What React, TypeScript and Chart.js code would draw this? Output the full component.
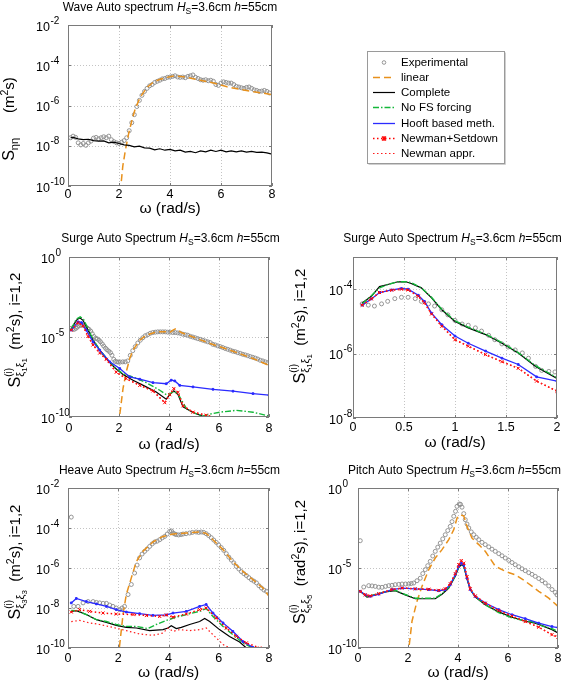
import { useEffect, useRef } from "react";
import { Chart, registerables } from "chart.js";

Chart.register(...registerables);

const FIG_W = 567;
const FIG_H = 684;
const FONT = '"Liberation Sans", Arial, Helvetica, sans-serif';

// ---------------- DATA ----------------
// Wave auto spectrum
const waveExpX = [0.1,0.2,0.3,0.4,0.5,0.6,0.7,0.8,0.9,1.0,1.1,1.2,1.3,1.4,1.5,1.6,1.7,1.8,1.9,2.0,2.1,2.2,2.3,2.4,2.5,2.6,2.7,2.8,2.9,3.0,3.1,3.2,3.3,3.4,3.5,3.6,3.7,3.8,3.9,4.0,4.1,4.2,4.3,4.4,4.5,4.6,4.7,4.8,4.9,5.0,5.1,5.2,5.3,5.4,5.5,5.6,5.7,5.8,5.9,6.0,6.1,6.2,6.3,6.4,6.5,6.6,6.7,6.8,6.9,7.0,7.1,7.2,7.3,7.4,7.5,7.6,7.7,7.8,7.9];
const waveExpY = [2.5e-8,3.0e-8,2.6e-8,1.4e-8,1.1e-8,1.3e-8,1.05e-8,1.4e-8,1.7e-8,2.4e-8,
  2.6e-8,2.2e-8,2.5e-8,2.8e-8,2.5e-8,3.0e-8,2.0e-8,1.6e-8,1.4e-8,1.3e-8,
  1.5e-8,1.8e-8,2.5e-8,5.6e-8,1.4e-7,3.5e-7,8.9e-7,1.8e-6,3.2e-6,5.0e-6,
  7.1e-6,9.5e-6,1.1e-5,1.4e-5,1.6e-5,1.8e-5,2.1e-5,2.2e-5,2.5e-5,2.6e-5,
  2.8e-5,3.0e-5,2.6e-5,2.5e-5,2.6e-5,2.4e-5,2.8e-5,3.0e-5,3.3e-5,2.5e-5,
  2.2e-5,1.9e-5,1.8e-5,1.9e-5,1.7e-5,1.8e-5,1.6e-5,1.1e-5,1.0e-5,1.3e-5,
  1.5e-5,1.4e-5,1.3e-5,1.3e-5,1.1e-5,8.9e-6,8.3e-6,7.6e-6,7.1e-6,7.9e-6,
  8.3e-6,7.1e-6,6.0e-6,5.6e-6,5.0e-6,5.2e-6,5.6e-6,5.0e-6,4.2e-6];
const waveLinX = [2.05,2.15,2.25,2.38,2.51,2.64,2.84,3.1,3.36,3.62,3.88,4.14,4.4,4.67,5.19,5.71,6.24,6.76,7.28,8.0];
const waveLinY = [5e-11,1.0e-9,6.0e-9,4.1e-8,1.9e-7,7.1e-7,2.7e-6,7.9e-6,1.5e-5,2.0e-5,2.5e-5,2.9e-5,2.8e-5,2.5e-5,1.8e-5,1.3e-5,8.5e-6,6.3e-6,4.8e-6,3.5e-6];
const waveCompX = [0.1,0.2,0.4,0.6,0.8,1.0,1.2,1.4,1.6,1.8,2.0,2.2,2.4,2.6,2.8,3.0,3.2,3.4,3.6,3.8,4.0,4.2,4.4,4.6,4.8,5.0,5.2,5.4,5.6,5.8,6.0,6.2,6.4,6.6,6.8,7.0,7.2,7.4,7.6,7.8,8.0];
const waveCompY = [2.5e-8,2.6e-8,2.2e-8,2.0e-8,2.1e-8,1.8e-8,1.7e-8,1.74e-8,1.4e-8,1.5e-8,1.3e-8,1.1e-8,1.05e-8,8.9e-9,9.5e-9,7.9e-9,7.6e-9,6.3e-9,7.1e-9,6.0e-9,6.6e-9,5.6e-9,6.0e-9,4.8e-9,5.2e-9,4.5e-9,5.6e-9,5.0e-9,6.0e-9,5.2e-9,6.0e-9,5.0e-9,5.6e-9,5.0e-9,5.5e-9,4.8e-9,5.2e-9,4.7e-9,4.8e-9,4.4e-9,3.8e-9];

// Surge auto spectrum (shared experimental data)
const surgeExpX = [0.09,0.15,0.21,0.28,0.34,0.41,0.475,0.54,0.61,0.67,0.74,0.8,0.87,0.93,1.0,1.07,1.13,1.2,1.26,1.33,1.39,1.46,1.52,1.59,1.66,1.72,1.79,1.85,1.92,1.98,
  2.05,2.15,2.25,2.35,2.45,2.55,2.65,2.75,2.85,2.95,3.05,3.15,3.25,3.35,3.45,3.55,3.65,3.75,3.85,3.95,4.05,4.15,4.25,4.35,4.45,4.55,4.65,4.75,4.85,4.95,
  5.05,5.15,5.25,5.35,5.45,5.55,5.65,5.75,5.85,5.95,6.05,6.15,6.25,6.35,6.45,6.55,6.65,6.75,6.85,6.95,7.05,7.15,7.25,7.35,7.45,7.55,7.65,7.75,7.85,7.95];
const surgeExpY = [3.5e-5,3.2e-5,3.0e-5,3.5e-5,4.2e-5,5.1e-5,5.6e-5,5.6e-5,5.1e-5,4.2e-5,3.5e-5,3.0e-5,2.3e-5,1.6e-5,1.07e-5,8.3e-6,7.6e-6,6.3e-6,5.0e-6,3.7e-6,2.7e-6,2.0e-6,1.6e-6,1.3e-6,1.05e-6,7.2e-7,4.0e-7,3.0e-7,2.8e-7,2.7e-7,
  2.7e-7,2.8e-7,2.8e-7,3.2e-7,7.1e-7,1.4e-6,2.5e-6,4.2e-6,6.3e-6,8.9e-6,
  1.2e-5,1.4e-5,1.7e-5,1.9e-5,2.0e-5,2.1e-5,2.1e-5,2.1e-5,2.1e-5,2.0e-5,
  2.0e-5,1.9e-5,1.9e-5,1.8e-5,1.7e-5,1.5e-5,1.4e-5,1.3e-5,1.1e-5,1.0e-5,
  8.9e-6,7.9e-6,7.1e-6,6.3e-6,5.6e-6,5.0e-6,4.5e-6,3.5e-6,3.2e-6,2.8e-6,
  2.5e-6,2.2e-6,1.9e-6,1.7e-6,1.5e-6,1.3e-6,1.2e-6,1.05e-6,9.5e-7,8.3e-7,
  7.6e-7,6.8e-7,6.0e-7,5.4e-7,4.8e-7,4.2e-7,3.5e-7,3.2e-7,2.8e-7,2.5e-7];
const surgeLinX = [1.98,2.16,2.29,2.43,2.56,2.83,3.09,3.49,3.89,4.03,4.16,4.29,4.49,5.23,5.76,6.56,7.36,8.0];
const surgeLinY = [3.2e-11,5.9e-9,6.6e-8,4.5e-7,1.5e-6,6.3e-6,1.3e-5,2.1e-5,2.1e-5,1.9e-5,2.7e-5,3.4e-5,1.9e-5,6.9e-6,3.4e-6,1.3e-6,4.5e-7,1.7e-7];
const surgeCompX = [0.09,0.29,0.43,0.56,0.76,0.96,1.23,1.49,1.83,2.16,2.56,3.09,3.49,3.89,4.03,4.19,4.36,4.56,4.96,5.43,5.8];
const surgeCompY = [3.1e-5,1.1e-4,1.6e-4,1.1e-4,2.7e-5,6.3e-6,1.5e-6,4.5e-7,1.2e-7,4.5e-8,2.0e-8,7.6e-9,3.7e-9,1.3e-9,2.5e-9,4.3e-9,2.5e-9,4.3e-10,1.9e-10,1.0e-10,5.0e-11];
const surgeNoFsX = [0.09,0.29,0.45,0.58,0.76,0.96,1.23,1.49,1.83,2.16,2.56,3.09,3.63,3.89,4.03,4.19,4.36,4.7,5.0,5.36,5.7,6.03,6.69,7.36,8.0];
const surgeNoFsY = [3.2e-5,1.3e-4,1.8e-4,1.3e-4,3.2e-5,7.1e-6,1.6e-6,5.0e-7,1.3e-7,5.0e-8,3.2e-8,1.4e-8,4.7e-9,2.5e-9,2.8e-9,4.0e-9,2.8e-9,3.3e-10,1.8e-10,1.15e-10,1.6e-10,2.0e-10,2.6e-10,2.0e-10,1.15e-10];
const surgeHooftX = [0.09,0.36,0.5,0.69,0.96,1.23,1.63,2.03,2.43,2.83,3.36,3.89,4.09,4.23,4.43,4.96,5.76,6.56,7.36,8.0];
const surgeHooftY = [2.7e-5,8.9e-5,7.9e-5,2.7e-5,5.0e-6,1.5e-6,2.8e-7,1.07e-7,3.2e-8,2.3e-8,1.4e-8,1.2e-8,2.0e-8,1.8e-8,9.5e-9,7.6e-9,5.4e-9,4.1e-9,2.9e-9,2.3e-9];
const surgeNewmanX = [0.09,0.36,0.56,0.76,0.96,1.23,1.49,1.89,2.29,2.83,3.36,3.83,4.03,4.19,4.36,4.56,4.96,5.49,6.03];
const surgeNewmanY = [2.7e-5,7.9e-5,5.0e-5,1.1e-5,3.2e-6,1.0e-6,4.0e-7,6.3e-8,2.5e-8,9.5e-9,4.3e-9,7.9e-10,2.5e-9,5.9e-9,3.5e-9,5.0e-10,2.0e-10,1.3e-10,7.9e-11];

// Surge auto spectrum, low-frequency panel
const surgeZoomCompX = [0.09,0.18,0.26,0.34,0.44,0.52,0.57,0.67,0.77,0.87,1.0,1.13,1.3,1.46,1.62,1.79,2.0];
const surgeZoomCompY = [3.7e-5,6.0e-5,1.2e-4,1.4e-4,1.7e-4,1.7e-4,1.5e-4,1.1e-4,5.4e-5,2.3e-5,1.0e-5,6.3e-6,3.9e-6,2.1e-6,1.05e-6,4.0e-7,1.7e-7];
const surgeZoomNoFsY = [3.5e-5,6.3e-5,1.1e-4,1.4e-4,1.7e-4,1.7e-4,1.6e-4,1.1e-4,5.6e-5,2.4e-5,1.05e-5,6.6e-6,4.0e-6,2.2e-6,1.07e-6,4.2e-7,1.8e-7];
const surgeZoomHooftX = [0.09,0.18,0.26,0.38,0.475,0.54,0.64,0.7,0.77,0.87,1.0,1.13,1.3,1.46,1.62,1.8,2.0];
const surgeZoomHooftY = [3.2e-5,5.0e-5,7.9e-5,9.5e-5,1.05e-4,1.0e-4,6.5e-5,4.2e-5,1.8e-5,7.9e-6,3.5e-6,2.1e-6,1.2e-6,7.2e-7,4.6e-7,1.9e-7,1.4e-7];
const surgeZoomNewmanY = [3.2e-5,5.0e-5,7.9e-5,9.3e-5,1.0e-4,9.5e-5,6.0e-5,3.8e-5,1.7e-5,7.1e-6,2.7e-6,1.7e-6,9.3e-7,5.6e-7,3.5e-7,1.4e-7,6.8e-8];

// Heave auto spectrum
const heaveExpX = [0.13,0.23,0.4,0.6,0.8,1.0,1.13,1.26,1.4,1.53,1.66,1.79,1.92,2.06,2.15,2.25,2.39,2.52,2.65,2.75,2.85,2.95,3.05,3.15,3.25,3.35,3.45,3.55,3.65,3.75,3.85,3.95,4.05,4.12,4.18,4.25,4.31,4.4,4.5,4.58,4.7,4.84,4.95,5.1,5.2,5.3,5.4,5.5,5.6,5.7,5.8,5.9,6.0,6.1,6.2,6.3,6.4,6.5,6.6,6.7,6.8,6.9,7.0,7.1,7.2,7.3,7.4,7.5,7.6,7.7,7.8,7.9];
const heaveExpY = [3.5e-4,1.2e-8,1.2e-8,1.8e-8,2.1e-8,2.1e-8,1.9e-8,1.8e-8,1.7e-8,1.7e-8,
  1.4e-8,1.2e-8,1.0e-8,8.3e-9,1.0e-8,1.2e-8,4.7e-8,1.5e-7,5.6e-7,1.4e-6,
  3.2e-6,5.0e-6,6.8e-6,8.9e-6,1.2e-5,1.6e-5,2.0e-5,2.2e-5,2.6e-5,3.2e-5,
  3.8e-5,5.0e-5,6.8e-5,7.1e-5,5.6e-5,5.0e-5,4.7e-5,4.5e-5,4.7e-5,5.0e-5,
  5.2e-5,5.6e-5,6.0e-5,6.3e-5,6.0e-5,6.3e-5,6.0e-5,5.2e-5,4.2e-5,3.3e-5,
  2.5e-5,1.9e-5,1.4e-5,1.05e-5,7.6e-6,5.2e-6,3.5e-6,2.5e-6,1.8e-6,1.2e-6,
  8.9e-7,6.6e-7,5.2e-7,4.2e-7,3.3e-7,2.6e-7,2.2e-7,1.8e-7,1.3e-7,1.0e-7,
  7.9e-8,6.8e-8];
const heaveLinX = [2.0,2.19,2.32,2.52,2.72,2.98,3.38,3.78,4.18,4.71,5.24,5.5,5.77,6.17,6.56,6.96,7.36,7.76,8.0];
const heaveLinY = [3.2e-11,4.7e-9,4.7e-8,3.2e-7,2.1e-6,6.8e-6,2.0e-5,3.8e-5,5.0e-5,5.6e-5,6.3e-5,5.4e-5,2.6e-5,8.3e-6,2.1e-6,6.8e-7,2.6e-7,1.0e-7,3.8e-8];
const heaveCompX = [0.13,0.33,0.73,1.13,1.53,1.92,2.32,2.72,3.25,3.78,3.98,4.11,4.31,4.51,4.84,5.24,5.44,5.64,6.03,6.43,6.83,7.1,7.3];
const heaveCompY = [6.8e-9,7.4e-9,4.7e-9,2.6e-9,1.9e-9,1.35e-9,1.07e-9,1.0e-9,7.4e-10,8.3e-10,1.0e-9,1.3e-9,9.3e-10,1.07e-9,1.5e-9,2.1e-9,3.0e-9,2.1e-9,8.3e-10,3.8e-10,2.0e-10,1.0e-10,6.3e-11];
const heaveNoFsX = [0.13,0.33,0.73,1.13,1.53,1.92,2.32,2.72,3.18,3.51,3.91,4.31,4.71,5.24,5.5,5.77,6.17,6.56,6.96,7.36,7.6];
const heaveNoFsY = [7.6e-9,7.4e-9,4.7e-9,2.6e-9,2.1e-9,1.5e-9,1.2e-9,1.2e-9,9.3e-10,1.5e-9,2.4e-9,3.5e-9,4.7e-9,6.8e-9,9.3e-9,3.8e-9,1.2e-9,4.7e-10,1.8e-10,1.0e-10,6.3e-11];
const heaveHooftX = [0.13,0.33,0.73,1.13,1.53,1.92,2.32,2.85,3.38,3.91,4.18,4.71,5.24,5.5,5.77,6.17,6.56,6.96,7.36,7.6];
const heaveHooftY = [1.8e-8,3.0e-8,2.1e-8,1.6e-8,1.2e-8,8.3e-9,6.3e-9,5.2e-9,4.3e-9,4.5e-9,5.6e-9,6.8e-9,1.2e-8,1.5e-8,5.6e-9,1.8e-9,6.8e-10,2.1e-10,1.07e-10,6.3e-11];
const heaveSetdownX = [0.13,0.46,0.86,1.39,1.92,2.59,3.12,3.65,3.91,4.18,4.71,5.24,5.5,5.9,6.3,6.7,7.1,7.63,7.9];
const heaveSetdownY = [6.3e-9,8.3e-9,6.8e-9,5.6e-9,5.0e-9,4.7e-9,4.2e-9,3.8e-9,4.5e-9,3.5e-9,5.0e-9,8.3e-9,1.0e-8,3.2e-9,1.0e-9,3.8e-10,1.8e-10,1.0e-10,6.3e-11];
const heaveNewmanX = [0.13,0.46,0.86,1.26,1.79,2.32,2.85,3.38,3.78,3.98,4.18,4.44,4.84,5.24,5.5,5.84,6.17,6.43,6.6];
const heaveNewmanY = [2.1e-9,2.4e-9,1.8e-9,1.5e-9,1.07e-9,7.4e-10,5.0e-10,4.3e-10,5.6e-10,1.0e-9,6.8e-10,8.3e-10,7.4e-10,8.3e-10,1.0e-9,3.8e-10,1.5e-10,1.0e-10,6.3e-11];

// Pitch auto spectrum
const pitchExpX = [0.09,0.23,0.43,0.56,0.69,0.83,0.96,1.1,1.23,1.36,1.49,1.63,1.76,1.9,2.03,2.13,2.23,2.36,2.49,2.59,2.69,2.79,2.89,2.99,3.09,3.19,3.29,3.39,3.49,3.59,3.69,3.76,3.83,3.9,3.96,4.05,4.1,4.16,4.23,4.29,4.36,4.43,4.53,4.63,4.73,4.83,4.96,5.09,5.23,5.36,5.49,5.63,5.76,5.89,6.03,6.16,6.29,6.43,6.56,6.69,6.83,6.96,7.09,7.23,7.36,7.49,7.63,7.76,7.89,7.96];
const pitchExpY = [5.1e-4,6.5e-7,7.9e-7,7.6e-7,7.1e-7,6.3e-7,6.2e-7,7.1e-7,7.9e-7,8.3e-7,
  9.1e-7,9.5e-7,1.0e-6,1.0e-6,1.0e-6,1.07e-6,1.15e-6,1.6e-6,2.3e-6,4.5e-6,
  7.9e-6,1.4e-5,2.6e-5,5.6e-5,1.1e-4,2.0e-4,3.6e-4,6.6e-4,1.2e-3,2.2e-3,
  4.0e-3,7.9e-3,1.7e-2,3.5e-2,7.1e-2,1.0e-1,9.5e-2,6.3e-2,2.5e-2,1.05e-2,
  5.6e-3,3.2e-3,1.8e-3,1.2e-3,8.3e-4,5.9e-4,4.0e-4,2.9e-4,2.1e-4,1.5e-4,
  1.1e-4,7.9e-5,5.8e-5,4.2e-5,3.0e-5,2.2e-5,1.6e-5,1.2e-5,8.9e-6,6.8e-6,
  5.1e-6,4.0e-6,3.0e-6,2.2e-6,1.6e-6,1.15e-6,7.6e-7,4.5e-7,3.0e-7,2.1e-7];
const pitchLinX = [2.0,2.16,2.36,2.56,2.83,3.09,3.36,3.63,3.83,3.96,4.09,4.23,4.36,4.56,4.83,5.09,5.49,5.89,6.29,6.69,7.23,7.63,8.0];
const pitchLinY = [3.2e-11,4.7e-9,8.3e-8,7.1e-7,7.9e-6,4.2e-5,1.4e-4,5.9e-4,2.5e-3,1.3e-2,2.1e-2,1.8e-2,4.0e-3,7.4e-4,2.9e-4,1.1e-4,1.3e-5,6.2e-6,3.8e-6,1.5e-6,3.5e-7,1.3e-7,4.0e-8];
const pitchCompX = [0.09,0.36,0.69,1.09,1.49,1.89,2.29,2.69,3.09,3.36,3.63,3.89,4.03,4.13,4.23,4.36,4.49,4.69,5.09,5.63,6.16,6.69,7.09,7.36,7.76,8.0];
const pitchCompY = [3.5e-7,1.5e-7,2.1e-7,3.2e-7,3.8e-7,2.1e-7,1.2e-7,1.2e-7,1.2e-7,2.3e-7,5.6e-7,3.0e-6,1.1e-5,1.6e-5,1.3e-5,2.1e-6,4.5e-7,1.5e-7,5.1e-8,1.8e-8,8.3e-9,4.7e-9,3.6e-9,2.5e-9,1.4e-9,8.7e-10];
const pitchNoFsY = [3.5e-7,1.6e-7,2.2e-7,3.3e-7,4.0e-7,2.2e-7,1.3e-7,1.3e-7,1.3e-7,2.5e-7,6.0e-7,3.2e-6,1.1e-5,1.7e-5,1.3e-5,2.2e-6,4.7e-7,1.6e-7,5.0e-8,1.6e-8,7.6e-9,5.0e-9,4.0e-9,2.4e-9,1.6e-9,1.1e-9];
const pitchHooftX = [0.09,0.29,0.49,0.83,1.36,1.76,2.29,2.83,3.23,3.49,3.69,3.89,4.03,4.13,4.23,4.36,4.49,4.69,5.09,5.63,6.16,6.69,7.23,7.76,8.0];
const pitchHooftY = [3.5e-7,2.1e-7,1.7e-7,2.3e-7,4.5e-7,5.6e-7,4.9e-7,4.5e-7,3.8e-7,4.5e-7,9.1e-7,3.8e-6,1.3e-5,2.0e-5,1.6e-5,2.3e-6,4.5e-7,1.7e-7,6.5e-8,2.5e-8,1.2e-8,6.8e-9,3.6e-9,2.2e-9,1.9e-9];
const pitchNewmanY = [3.5e-7,2.1e-7,1.8e-7,2.5e-7,4.5e-7,5.6e-7,5.0e-7,4.7e-7,4.0e-7,5.0e-7,1.05e-6,4.5e-6,1.6e-5,2.9e-5,2.0e-5,2.8e-6,5.0e-7,1.8e-7,6.3e-8,2.2e-8,1.0e-8,4.5e-9,2.0e-9,6.8e-10,4.7e-10];

// Axis ticks
const xTicks8 = [0, 2, 4, 6, 8];
const xTickLabels8 = ["0", "2", "4", "6", "8"];
const xTicks2 = [0, 0.5, 1, 1.5, 2];
const xTickLabels2 = ["0", "0.5", "1", "1.5", "2"];
const yTicksA = [1e-10, 1e-8, 1e-6, 1e-4, 1e-2];
const yExpA = ["-10", "-8", "-6", "-4", "-2"];
const yTicksB = [1e-10, 1e-5, 1];
const yExpB = ["-10", "-5", "0"];
const yTicksC = [1e-8, 1e-6, 1e-4];
const yExpC = ["-8", "-6", "-4"];

const LEGEND_KEYS = ["exp", "lin", "comp", "nofs", "hooft", "setdown", "newman"];
const LEGEND_LABELS = ["Experimental", "linear", "Complete", "No FS forcing", "Hooft based meth.", "Newman+Setdown", "Newman appr."];

// ---------------- STYLES ----------------
const STYLES: Record<string, any> = {
  exp: { color: "#8a8a8a", line: false, width: 0.9, point: "circle", radius: 2 },
  lin: { color: "#E8911C", dash: [7, 4], width: 1.5 },
  comp: { color: "#000000", width: 1.2 },
  nofs: { color: "#14B83A", dash: [6, 2, 1.5, 2], width: 1.4 },
  hooft: { color: "#2B2BFF", width: 1.3, point: "rect", radius: 1.2 },
  setdown: { color: "#FF0000", dash: [1.5, 2.5], width: 1.5, point: "crossRot", radius: 2.2 },
  newman: { color: "#FF1A1A", dash: [1.5, 2.5], width: 1.2 },
};

type Seg = { t: string; size: number; dy?: number; italic?: boolean; noAdv?: boolean };

const titleSegs = (name: string): Seg[] => [
  { t: name + " ", size: 12 },
  { t: "H", size: 12, italic: true },
  { t: "S", size: 8.5, dy: 3 },
  { t: "=3.6cm ", size: 12 },
  { t: "h", size: 12, italic: true },
  { t: "=55cm", size: 12 },
];

const ylabXi = (idx: string, unit: string): Seg[] => [
  { t: "S", size: 16 },
  { t: "(i)", size: 10, dy: -8, noAdv: true },
  { t: "ξ", size: 11, dy: 4 },
  { t: idx, size: 8, dy: 7 },
  { t: "ξ", size: 11, dy: 4 },
  { t: idx, size: 8, dy: 7 },
  { t: "  (" + unit, size: 15 },
  { t: "2", size: 10.5, dy: -6 },
  { t: "s), i=1,2", size: 15 },
];

const ylabWave: Seg[] = [
  { t: "S", size: 16 },
  { t: "ηη", size: 11, dy: 4 },
  { t: "      (m", size: 15 },
  { t: "2", size: 10.5, dy: -6 },
  { t: "s)", size: 15 },
];

const PANELS: any[] = [
  {
    id: "wave", box: { l: 68, t: 25, r: 272, b: 186 }, xMax: 8, xTicks: xTicks8, xLabels: xTickLabels8,
    yMin: 1e-10, yMax: 1e-2, yTicks: yTicksA, yExp: yExpA, yLabX: 36, xTickBase: 197.5, xLabBase: 213,
    title: titleSegs("Wave Auto spectrum"), titleCx: 170, titleBase: 10.5,
    ylab: ylabWave, ylabX: 14, ylabCy: 119,
    series: [["exp", waveExpX, waveExpY], ["lin", waveLinX, waveLinY], ["comp", waveCompX, waveCompY]],
  },
  {
    id: "surge", box: { l: 69, t: 257, r: 269, b: 417 }, xMax: 8, xTicks: xTicks8, xLabels: xTickLabels8,
    yMin: 1e-10, yMax: 1, yTicks: yTicksB, yExp: yExpB, yLabX: 41, xTickBase: 432, xLabBase: 449,
    title: titleSegs("Surge Auto Spectrum"), titleCx: 170.5, titleBase: 241.5,
    ylab: ylabXi("1", "m"), ylabX: 20, ylabCy: 330,
    series: [["exp", surgeExpX, surgeExpY], ["lin", surgeLinX, surgeLinY], ["comp", surgeCompX, surgeCompY],
      ["nofs", surgeNoFsX, surgeNoFsY], ["hooft", surgeHooftX, surgeHooftY],
      ["setdown", surgeNewmanX, surgeNewmanY], ["newman", surgeNewmanX, surgeNewmanY]],
  },
  {
    id: "surgeZoom", box: { l: 353, t: 257, r: 557, b: 418 }, xMax: 2, xTicks: xTicks2, xLabels: xTickLabels2,
    yMin: 1e-8, yMax: 1e-3, yTicks: yTicksC, yExp: yExpC, yLabX: 329, xTickBase: 431, xLabBase: 447,
    title: titleSegs("Surge Auto Spectrum"), titleCx: 452.5, titleBase: 241.5,
    ylab: ylabXi("1", "m"), ylabX: 305, ylabCy: 326,
    series: [["exp", surgeExpX, surgeExpY], ["lin", surgeLinX, surgeLinY], ["comp", surgeZoomCompX, surgeZoomCompY],
      ["nofs", surgeZoomCompX, surgeZoomNoFsY], ["hooft", surgeZoomHooftX, surgeZoomHooftY],
      ["setdown", surgeZoomHooftX, surgeZoomNewmanY], ["newman", surgeZoomHooftX, surgeZoomNewmanY]],
  },
  {
    id: "heave", box: { l: 68, t: 488, r: 269, b: 648 }, xMax: 8, xTicks: xTicks8, xLabels: xTickLabels8,
    yMin: 1e-10, yMax: 1e-2, yTicks: yTicksA, yExp: yExpA, yLabX: 36, xTickBase: 662, xLabBase: 677,
    title: titleSegs("Heave Auto Spectrum"), titleCx: 169.5, titleBase: 474,
    ylab: ylabXi("3", "m"), ylabX: 20, ylabCy: 562,
    series: [["exp", heaveExpX, heaveExpY], ["lin", heaveLinX, heaveLinY], ["comp", heaveCompX, heaveCompY],
      ["nofs", heaveNoFsX, heaveNoFsY], ["hooft", heaveHooftX, heaveHooftY],
      ["setdown", heaveSetdownX, heaveSetdownY], ["newman", heaveNewmanX, heaveNewmanY]],
  },
  {
    id: "pitch", box: { l: 358, t: 488, r: 558, b: 648 }, xMax: 8, xTicks: xTicks8, xLabels: xTickLabels8,
    yMin: 1e-10, yMax: 1, yTicks: yTicksB, yExp: yExpB, yLabX: 328, xTickBase: 662, xLabBase: 677,
    title: titleSegs("Pitch Auto Spectrum"), titleCx: 454.5, titleBase: 474,
    ylab: ylabXi("5", "rad"), ylabX: 305, ylabCy: 562,
    series: [["exp", pitchExpX, pitchExpY], ["lin", pitchLinX, pitchLinY], ["comp", pitchCompX, pitchCompY],
      ["nofs", pitchCompX, pitchNoFsY], ["hooft", pitchHooftX, pitchHooftY],
      ["setdown", pitchHooftX, pitchNewmanY], ["newman", pitchHooftX, pitchNewmanY]],
  },
];

// ---------------- DRAWING HELPERS ----------------
const fontOf = (s: Seg) => `${s.italic ? "italic " : ""}${s.size}px ${FONT}`;

function drawRich(ctx: CanvasRenderingContext2D, segs: Seg[], x: number, y: number, center: boolean) {
  const widths = segs.map((s) => { ctx.font = fontOf(s); return ctx.measureText(s.t).width; });
  let total = 0;
  segs.forEach((s, i) => { if (!s.noAdv) total += widths[i]; });
  let cx = center ? x - total / 2 : x;
  ctx.textAlign = "left";
  ctx.textBaseline = "alphabetic";
  segs.forEach((s, i) => {
    ctx.font = fontOf(s);
    ctx.fillText(s.t, cx, y + (s.dy || 0));
    if (!s.noAdv) cx += widths[i];
  });
}

function seg(ctx: CanvasRenderingContext2D, x1: number, y1: number, x2: number, y2: number) {
  ctx.beginPath();
  ctx.moveTo(x1, y1);
  ctx.lineTo(x2, y2);
  ctx.stroke();
}

function drawLegend(ctx: CanvasRenderingContext2D) {
  const L = 367.5, T = 51.5, R = 504.5, B = 163.5;
  ctx.save();
  ctx.fillStyle = "#ffffff";
  ctx.fillRect(L, T, R - L, B - T);
  ctx.setLineDash([]);
  ctx.strokeStyle = "#9a9a9a";
  ctx.lineWidth = 1;
  ctx.strokeRect(L, T, R - L, B - T);
  ctx.strokeStyle = "#cfcfcf";
  seg(ctx, L + 1, B + 1, R + 1, B + 1);
  seg(ctx, R + 1, T + 1, R + 1, B + 1);
  LEGEND_KEYS.forEach((key, i) => {
    const y = Math.round(61.5 + i * 15.33) + 0.5;
    const s = STYLES[key];
    if (s.line !== false) {
      ctx.strokeStyle = s.color;
      ctx.lineWidth = s.width;
      ctx.setLineDash(s.dash || []);
      seg(ctx, 373, y, 395, y);
      ctx.setLineDash([]);
    }
    if (key === "exp") {
      ctx.strokeStyle = s.color;
      ctx.lineWidth = 0.9;
      ctx.beginPath();
      ctx.arc(384, y, 1.8, 0, Math.PI * 2);
      ctx.stroke();
    }
    if (key === "setdown") {
      ctx.strokeStyle = s.color;
      ctx.lineWidth = 1.2;
      seg(ctx, 382, y - 2, 386, y + 2);
      seg(ctx, 382, y + 2, 386, y - 2);
      seg(ctx, 384, y - 2.5, 384, y + 2.5);
    }
    ctx.fillStyle = "#000";
    ctx.font = `11.5px ${FONT}`;
    ctx.textAlign = "left";
    ctx.textBaseline = "middle";
    ctx.fillText(LEGEND_LABELS[i], 401, y);
  });
  ctx.restore();
}

function framePlugin(p: any, withLegend: boolean) {
  return {
    id: "frame_" + p.id,
    beforeDatasetsDraw(chart: any) {
      const ctx: CanvasRenderingContext2D = chart.ctx;
      const { left, right, top, bottom } = chart.chartArea;
      const xs = chart.scales.x, ys = chart.scales.y;
      ctx.save();
      ctx.strokeStyle = "#c4c4c4";
      ctx.lineWidth = 1;
      ctx.setLineDash([1, 2]);
      p.xTicks.forEach((v: number) => {
        const px = Math.round(xs.getPixelForValue(v)) + 0.5;
        if (px <= left + 2 || px >= right - 2) return;
        seg(ctx, px, top, px, bottom);
      });
      p.yTicks.forEach((v: number) => {
        const py = Math.round(ys.getPixelForValue(v)) + 0.5;
        if (py <= top + 2 || py >= bottom - 2) return;
        seg(ctx, left, py, right, py);
      });
      ctx.restore();
    },
    afterDraw(chart: any) {
      const ctx: CanvasRenderingContext2D = chart.ctx;
      const { left, right, top, bottom } = chart.chartArea;
      const xs = chart.scales.x, ys = chart.scales.y;
      ctx.save();
      ctx.setLineDash([]);
      ctx.strokeStyle = "#7a7a7a";
      ctx.lineWidth = 1;
      ctx.strokeRect(left + 0.5, top + 0.5, right - left - 1, bottom - top - 1);
      // tick marks
      p.xTicks.forEach((v: number) => {
        const px = Math.round(xs.getPixelForValue(v)) + 0.5;
        seg(ctx, px, bottom, px, bottom - 3);
        seg(ctx, px, top, px, top + 3);
      });
      p.yTicks.forEach((v: number) => {
        const py = Math.round(ys.getPixelForValue(v)) + 0.5;
        seg(ctx, left, py, left + 3, py);
        seg(ctx, right, py, right - 3, py);
      });
      ctx.fillStyle = "#000";
      // x tick labels
      ctx.font = `12.5px ${FONT}`;
      ctx.textAlign = "center";
      ctx.textBaseline = "alphabetic";
      p.xTicks.forEach((v: number, i: number) => {
        ctx.fillText(p.xLabels[i], xs.getPixelForValue(v), p.xTickBase);
      });
      // y tick labels 10^n
      p.yTicks.forEach((v: number, i: number) => {
        const py = ys.getPixelForValue(v);
        ctx.font = `12.5px ${FONT}`;
        ctx.textAlign = "left";
        ctx.fillText("10", p.yLabX, py + 5.5);
        const w = ctx.measureText("10").width;
        ctx.font = `10px ${FONT}`;
        ctx.fillText(p.yExp[i], p.yLabX + w + 0.5, py - 1.5);
      });
      // title
      drawRich(ctx, p.title, p.titleCx, p.titleBase, true);
      // x label
      ctx.font = `15.5px ${FONT}`;
      ctx.textAlign = "center";
      ctx.fillText("ω (rad/s)", (left + right) / 2, p.xLabBase);
      // y label
      ctx.save();
      ctx.translate(p.ylabX, p.ylabCy);
      ctx.rotate(-Math.PI / 2);
      drawRich(ctx, p.ylab, 0, 0, true);
      ctx.restore();
      ctx.restore();
      if (withLegend) drawLegend(ctx);
    },
  };
}

function makeDataset(key: string, xs: number[], ys: number[]) {
  const s = STYLES[key];
  const isExp = key === "exp";
  return {
    label: key,
    data: xs.map((x, i) => ({ x, y: ys[i] })),
    showLine: s.line !== false,
    borderColor: s.color,
    backgroundColor: s.color,
    borderWidth: s.width,
    borderDash: s.dash || [],
    pointStyle: s.point || "circle",
    pointRadius: s.point ? s.radius : 0,
    pointHoverRadius: 0,
    pointBorderColor: s.color,
    pointBorderWidth: isExp ? 0.9 : 1,
    pointBackgroundColor: isExp ? "rgba(0,0,0,0)" : s.color,
    tension: 0,
  };
}

function makeChart(canvas: HTMLCanvasElement, p: any, withLegend: boolean) {
  // later series are drawn on top (MATLAB order) -> reverse for Chart.js
  const datasets = p.series.map((s: any) => makeDataset(s[0], s[1], s[2])).reverse();
  return new Chart(canvas, {
    type: "scatter",
    data: { datasets },
    options: {
      responsive: false,
      animation: false,
      events: [],
      layout: {
        autoPadding: false,
        padding: { left: p.box.l, top: p.box.t, right: FIG_W - p.box.r, bottom: FIG_H - p.box.b },
      },
      plugins: { legend: { display: false }, tooltip: { enabled: false }, title: { display: false } },
      scales: {
        x: { type: "linear", min: 0, max: p.xMax, display: false },
        y: { type: "logarithmic", min: p.yMin, max: p.yMax, display: false },
      },
    } as any,
    plugins: [framePlugin(p, withLegend)],
  });
}

export default function App() {
  const refs = useRef<(HTMLCanvasElement | null)[]>([]);
  useEffect(() => {
    const charts = PANELS.map((p, i) => makeChart(refs.current[i] as HTMLCanvasElement, p, i === 0));
    return () => charts.forEach((c) => c.destroy());
  }, []);
  return (
    <div style={{ position: "absolute", left: 0, top: 0, width: FIG_W, height: FIG_H, background: "#ffffff" }}>
      {PANELS.map((p, i) => (
        <canvas
          key={p.id}
          ref={(el) => { refs.current[i] = el; }}
          width={FIG_W}
          height={FIG_H}
          style={{ position: "absolute", left: 0, top: 0 }}
        />
      ))}
    </div>
  );
}
